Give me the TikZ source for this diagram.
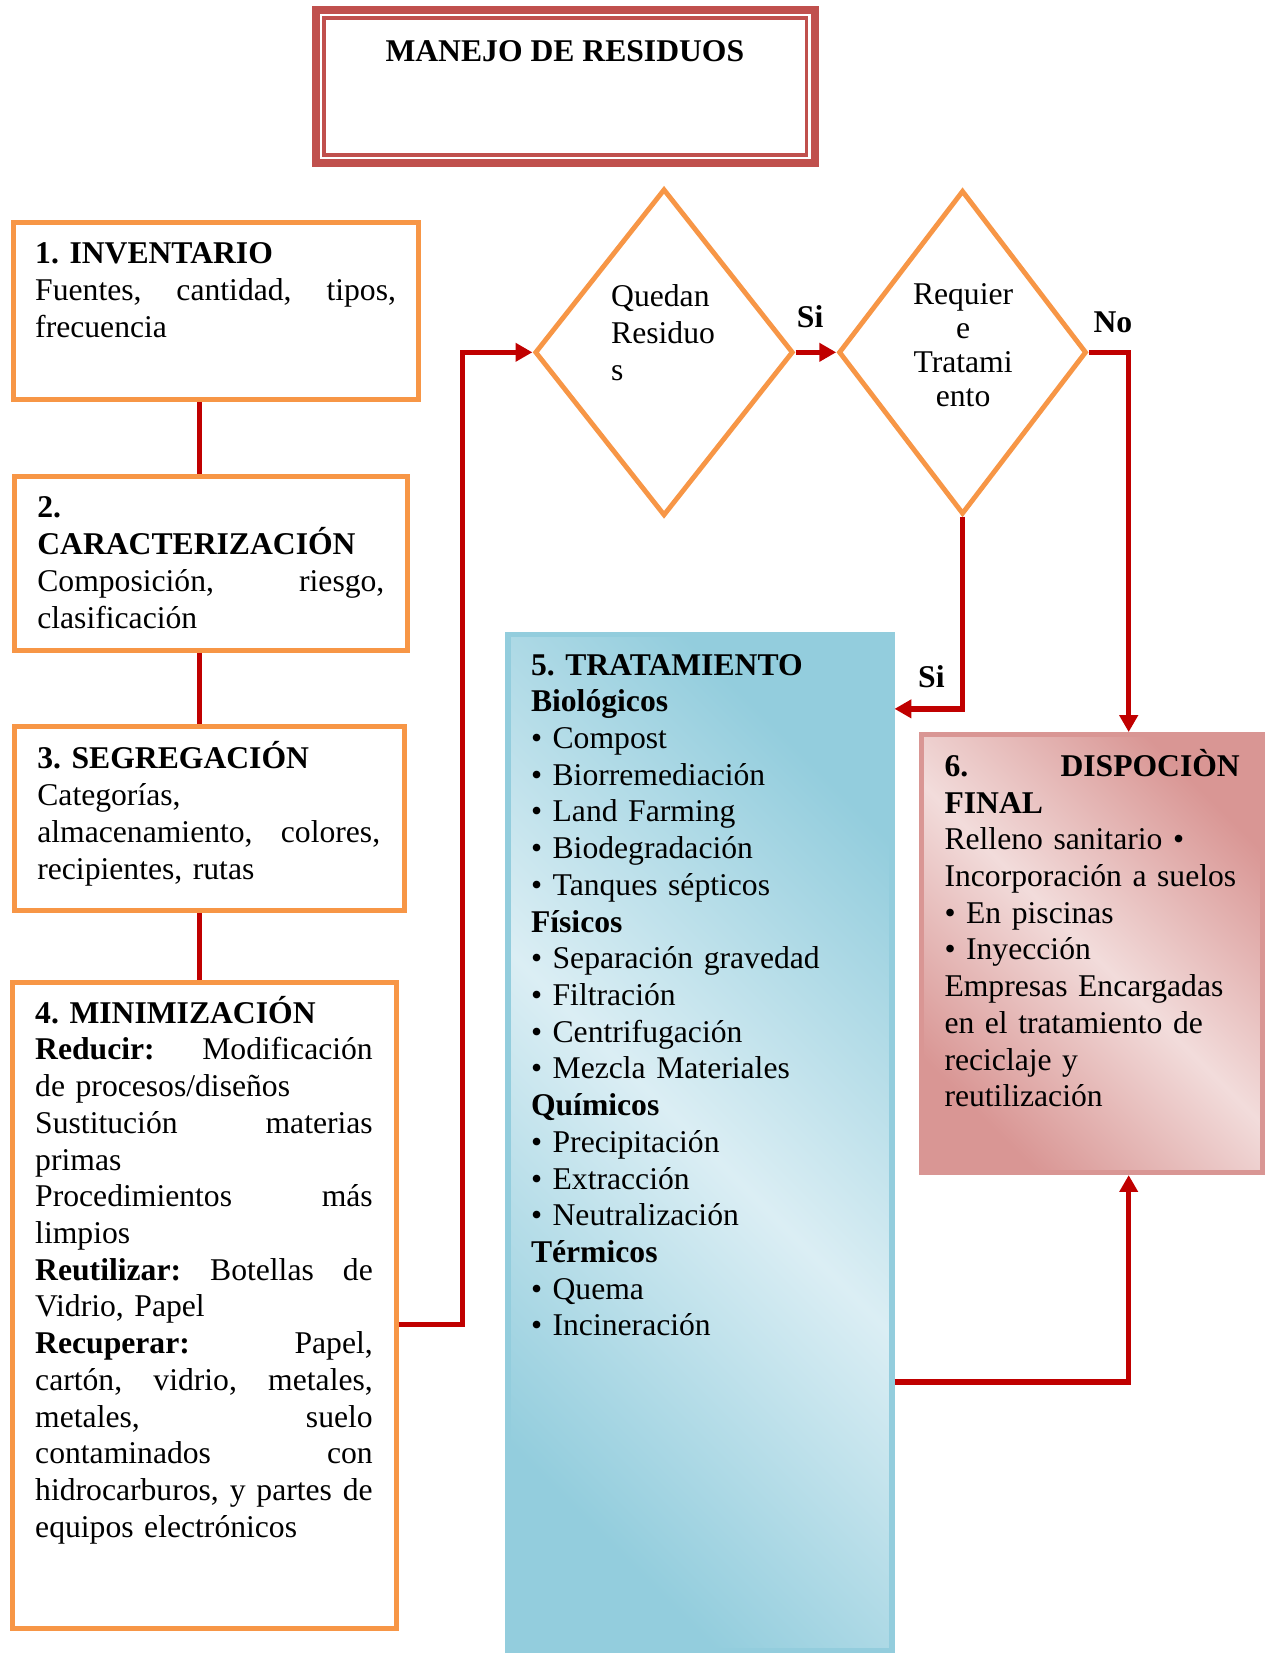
\documentclass[tikz,border=0pt]{standalone}
\usepackage{fontspec}
\setmainfont{Liberation Serif}
\usetikzlibrary{shapes.geometric,arrows.meta,fit,shadows}
\frenchspacing

\definecolor{boxorange}{HTML}{F79646}
\definecolor{linkred}{HTML}{C00000}
\definecolor{titlered}{HTML}{C0504D}
\definecolor{aquadark}{HTML}{93CDDD}
\definecolor{aqualight}{HTML}{DBEEF4}
\definecolor{rosedark}{HTML}{D99694}
\definecolor{roselight}{HTML}{F2DCDB}

% a justified line of the given width; words are separated by \hfill
\newcommand{\jl}[2]{\leavevmode\hbox to #1{#2}}

\tikzset{
  stepbox/.style={draw=boxorange, line width=2.4pt, fill=white, inner sep=0pt},
  decision/.style={diamond, draw=boxorange, line width=2.3pt, fill=white, inner sep=0pt},
  conn/.style={draw=linkred, line width=2.5pt},
  arr/.style={conn, -{Triangle[length=8pt,width=8.5pt]}},
  body/.style={font=\fontsize{15}{17.4}\selectfont, inner sep=0pt, align=left, anchor=base west},
  tag/.style={font=\fontsize{15}{17.4}\selectfont\bfseries, inner sep=0pt, anchor=base},
  boxshadow/.style={drop shadow={shadow xshift=1.3pt, shadow yshift=-1.3pt, fill=black!40, opacity=1}},
}

\begin{document}
\begin{tikzpicture}[x=0.5pt, y=-0.5pt]
\fill[white] (0,0) rectangle (1202,1568);
\useasboundingbox (0,0) rectangle (1202,1568);

% title frame: thick outer line, thin inner line
\node (titlebox) [draw=titlered, line width=3.7pt, inner sep=0pt, fit={(299.7,9.7) (772.3,154.3)}] {};
\draw[titlered, line width=1.6pt] (307.2,17.2) rectangle (764.8,146.8);
\node (title) [tag] at (535.5,58) {MANEJO DE RESIDUOS};

% left column of steps
\node (b1) [stepbox, fit={(12.5,210.5) (396.5,378.5)}] {};
\node (b2) [stepbox, fit={(13.5,451.5) (386.5,616.5)}] {};
\node (b3) [stepbox, fit={(13.5,688.5) (383.5,863.5)}] {};
\node (b4) [stepbox, fit={(12,931.5) (375.5,1543.5)}] {};

\node (t1) [body, text width=171pt] at (33,250) {\textbf{1. INVENTARIO}\\
\jl{171pt}{Fuentes,\hfill cantidad,\hfill tipos,}\\
frecuencia};

\node (t2) [body, text width=164.5pt] at (35,491) {\textbf{2.}\\
\textbf{CARACTERIZACIÓN}\\
\jl{164.5pt}{Composición,\hfill riesgo,}\\
clasificación};

\node (t3) [body, text width=162.5pt] at (35,729) {\textbf{3. SEGREGACIÓN}\\
Categorías,\\
\jl{162.5pt}{almacenamiento,\hfill colores,}\\
recipientes, rutas};

\node (t4) [body, text width=160pt] at (33,970) {\textbf{4. MINIMIZACIÓN}\\
\jl{160pt}{\textbf{Reducir:}\hfill Modificación}\\
de procesos/diseños\\
\jl{160pt}{Sustitución\hfill materias}\\
primas\\
\jl{160pt}{Procedimientos\hfill más}\\
limpios\\
\jl{160pt}{\textbf{Reutilizar:}\hfill Botellas\hfill de}\\
Vidrio, Papel\\
\jl{160pt}{\textbf{Recuperar:}\hfill Papel,}\\
\jl{160pt}{cartón,\hfill vidrio,\hfill metales,}\\
\jl{160pt}{metales,\hfill suelo}\\
\jl{160pt}{contaminados\hfill con}\\
\jl{160pt}{hidrocarburos,\hfill y\hfill partes\hfill de}\\
equipos electrónicos};

% decisions
\node (d1) [decision, minimum width=122.5pt, minimum height=155pt] at (629.5,334) {};
\node (d2) [decision, minimum width=117.5pt, minimum height=153.5pt] at (912.5,334) {};
\node (q1) [body, text width=60pt] at (579,291) {Quedan\\ Residuo\\ s};
\node (q2) [body, align=center, anchor=base, text width=60pt, font=\fontsize{15}{16}\selectfont] at (913,289) {Requier\\ e\\ Tratami\\ ento};

% treatment and final disposal
\node (b5) [draw=aquadark, line width=2.5pt, inner sep=0pt, boxshadow,
  top color=aquadark, bottom color=aquadark, middle color=aqualight, shading angle=-45,
  fit={(481.5,601.5) (845.5,1564.5)}] {};
\node (b6) [draw=rosedark, line width=2.5pt, inner sep=0pt, boxshadow,
  top color=rosedark, bottom color=rosedark, middle color=roselight, shading angle=-45,
  fit={(873.5,696.5) (1196.5,1111.5)}] {};

\node (t5) [body, text width=165pt] at (503,640) {\textbf{5. TRATAMIENTO}\\
\textbf{Biológicos}\\
• Compost\\
• Biorremediación\\
• Land Farming\\
• Biodegradación\\
• Tanques sépticos\\
\textbf{Físicos}\\
• Separación gravedad\\
• Filtración\\
• Centrifugación\\
• Mezcla Materiales\\
\textbf{Químicos}\\
• Precipitación\\
• Extracción\\
• Neutralización\\
\textbf{Térmicos}\\
• Quema\\
• Incineración};

\node (t6) [body, text width=140pt] at (895,736) {\jl{140pt}{\textbf{6.}\hfill\textbf{DISPOCIÒN}}\\
\textbf{FINAL}\\
Relleno sanitario •\\
Incorporación a suelos\\
• En piscinas\\
• Inyección\\
Empresas Encargadas\\
en el tratamiento de\\
reciclaje y\\
reutilización};

% connectors
\coordinate (lx) at (189,0);
\draw[conn] (b1.south -| lx) -- (b2.north -| lx);
\draw[conn] (b2.south -| lx) -- (b3.north -| lx);
\draw[conn] (b3.south -| lx) -- (b4.north -| lx);

\coordinate (ly) at (0,1255.5);
\coordinate (jx) at (438.5,0);
\draw[arr] (b4.east |- ly) -| (jx |- d1.west) -- (d1.west);

\draw[arr] (d1.east) -- (d2.west);

\coordinate (nx) at (1070,0);
\draw[arr] (d2.east) -| (nx |- b6.north);

\coordinate (sy) at (0,672);
\draw[arr] (d2.south) |- (b5.east |- sy);

\coordinate (ry) at (0,1310);
\draw[arr] (b5.east |- ry) -| (nx |- b6.south);

% branch labels
\node (si1) [tag] at (768,310) {Si};
\node (no) [tag] at (1055,315) {No};
\node (si2) [tag] at (883,652) {Si};
\end{tikzpicture}
\end{document}
